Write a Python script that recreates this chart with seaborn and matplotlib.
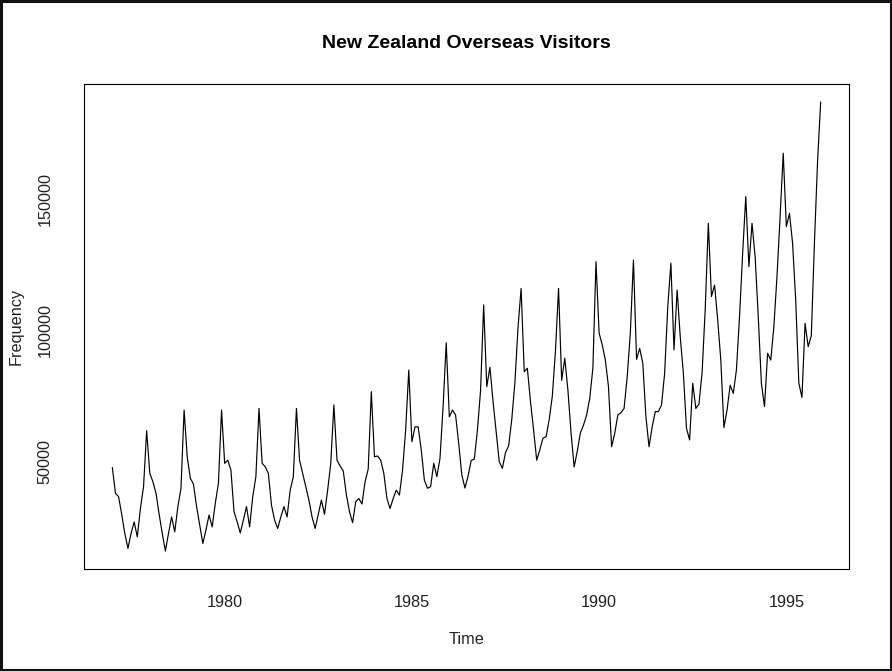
import numpy as np
import pandas as pd
import matplotlib
matplotlib.use("Agg")
import matplotlib.pyplot as plt
from matplotlib.patches import Rectangle
import seaborn as sns

# Monthly overseas visitor arrivals, January 1977 to December 1995
start_year = 1977
v1977 = [47800, 38000, 36700, 30000, 22700, 17000, 22700, 27100, 21400, 32200, 40500, 61800]
v1978 = [45600, 42400, 38000, 30000, 22700, 16000, 22700, 29000, 23300, 32900, 39900, 69700]
v1979 = [51900, 43700, 41500, 32900, 25900, 18900, 24000, 29700, 25200, 34200, 41800, 69700]
v1980 = [49400, 50600, 46800, 31000, 27100, 22900, 27800, 32900, 25200, 36700, 44300, 70300]
v1981 = [49400, 48100, 45600, 33500, 27800, 24600, 29000, 32900, 29000, 39200, 44300, 70300]
v1982 = [50600, 45600, 40500, 35400, 29000, 24600, 30000, 35400, 30000, 39200, 49400, 71600]
v1983 = [50600, 48400, 46500, 37500, 31000, 26800, 34800, 36000, 33900, 42400, 47200, 76700]
v1984 = [51900, 52200, 50600, 45600, 36000, 32200, 36000, 39200, 37300, 46800, 62100, 84900]
v1985 = [57600, 63300, 63300, 54500, 43000, 39900, 40500, 49400, 44300, 51300, 71000, 95300]
v1986 = [67100, 69700, 67800, 57000, 45000, 40000, 44500, 50500, 51000, 62000, 77000, 109700]
v1987 = [78600, 86000, 73000, 61500, 50000, 47500, 53500, 56000, 66000, 80000, 101000, 116000]
v1988 = [84300, 85600, 73000, 62000, 50600, 54500, 59000, 59500, 66000, 75000, 92000, 116000]
v1989 = [81000, 89400, 77300, 61000, 48000, 54000, 61000, 64000, 67800, 74200, 85600, 126200]
v1990 = [99000, 94500, 88700, 78600, 55700, 60800, 67800, 68700, 70300, 82400, 98900, 126800]
v1991 = [89000, 93200, 87500, 67100, 55700, 63300, 69100, 69100, 71600, 83700, 109100, 125600]
v1992 = [92600, 115400, 97600, 83700, 62700, 58300, 79900, 70300, 72000, 84000, 108000, 140800]
v1993 = [112900, 117300, 104000, 88700, 63000, 69700, 79200, 76000, 84900, 105200, 129400, 151000]
v1994 = [124300, 140800, 128100, 105200, 79900, 71000, 91300, 88700, 101400, 120600, 143300, 167500]
v1995 = [139500, 144600, 133200, 111600, 80000, 74500, 102700, 93800, 98000, 133300, 164300, 187000]

yearly = [v1977, v1978, v1979, v1980, v1981, v1982, v1983, v1984, v1985, v1986,
          v1987, v1988, v1989, v1990, v1991, v1992, v1993, v1994, v1995]
visitors = np.concatenate(yearly).astype(float)
time = start_year + np.arange(len(visitors)) / 12.0
df = pd.DataFrame({"Time": time, "Frequency": visitors})

x_ticks = [1980, 1985, 1990, 1995]
y_ticks = [50000, 100000, 150000]

sns.set_style("white")
plt.rcParams["font.family"] = ["Liberation Sans", "DejaVu Sans"]

W, H = 892, 671
fig = plt.figure(figsize=(W / 100, H / 100), dpi=100)
fig.patch.set_facecolor("white")

left, right, top, bottom = 84, 849, 84, 569
ax = fig.add_axes([left / W, 1 - bottom / H, (right - left) / W, (bottom - top) / H])

sns.lineplot(data=df, x="Time", y="Frequency", ax=ax, color="black",
             linewidth=0.85, estimator=None)

# R-style 4% padding around the data range
xr = time.max() - time.min()
yr = visitors.max() - visitors.min()
ax.set_xlim(time.min() - 0.04 * xr, time.max() + 0.04 * xr)
ax.set_ylim(visitors.min() - 0.04 * yr, visitors.max() + 0.04 * yr)

ax.set_xticks(x_ticks)
ax.set_xticklabels([str(t) for t in x_ticks])
ax.set_yticks(y_ticks)
ax.set_yticklabels([str(t) for t in y_ticks], rotation=90, va="center")

for s in ax.spines.values():
    s.set_visible(True)
    s.set_color("black")
    s.set_linewidth(0.8)

ax.tick_params(axis="both", direction="out", length=6.5, width=0.8, color="black",
               labelsize=11.7, labelcolor="#222222")
ax.tick_params(axis="x", pad=12)
ax.tick_params(axis="y", pad=16)

ax.set_xlabel("Time", fontsize=11.7, color="#222222")
ax.set_ylabel("Frequency", fontsize=11.7, color="#222222")
ax.xaxis.set_label_coords(0.5, -(640 - bottom) / (bottom - top), transform=ax.transAxes)
ax.yaxis.set_label_coords(-(left - 16) / (right - left), 0.5, transform=ax.transAxes)
ax.xaxis.label.set_va("center")
ax.yaxis.label.set_va("center")
ax.grid(False)

fig.text((left + right) / 2 / W, 1 - 44 / H, "New Zealand Overseas Visitors",
         ha="center", va="center", fontsize=14, fontweight="bold", color="black")

# frame around the whole image
fig.patches.append(Rectangle((0.0015, 0.002), 0.997, 0.996, transform=fig.transFigure,
                             fill=False, edgecolor="#111111", linewidth=2.2))

fig.savefig("out.png", dpi=100, facecolor="white")
